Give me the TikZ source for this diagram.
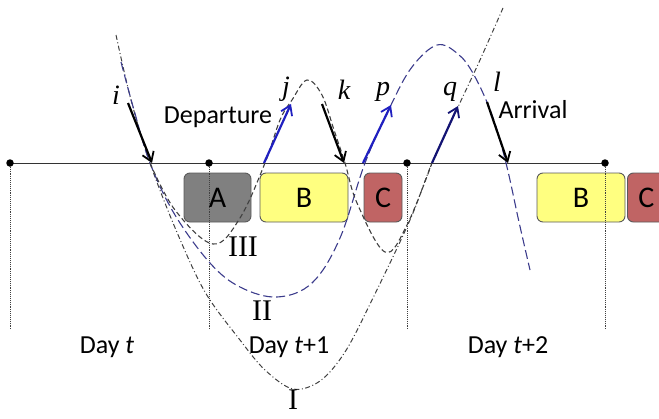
\documentclass[tikz,border=0pt]{standalone}
\usepackage{fontspec}
\setmainfont{Liberation Serif}
\newfontfamily\calib{Carlito}
\usetikzlibrary{arrows.meta}
\definecolor{boxA}{HTML}{808080}
\definecolor{boxB}{HTML}{FFFF80}
\definecolor{boxC}{HTML}{C06464}
\definecolor{edgegray}{HTML}{5A5A5A}
\definecolor{curveblue}{HTML}{3C3C8C}
\definecolor{arrblue}{HTML}{2020C0}
\tikzset{
  actbox/.style={draw=edgegray, line width=0.9pt, rounded corners=6pt, minimum height=49pt, inner sep=0pt, font=\calib\fontsize{30}{30}\selectfont},
  dotnode/.style={circle, fill=black, inner sep=0pt, minimum size=7.5pt},
  dayline/.style={densely dotted, line width=0.9pt, black!75},
  curveI/.style={line width=1pt, black!75, dash pattern=on 5pt off 2.5pt on 1pt off 2.5pt},
  curveII/.style={line width=1.1pt, curveblue, dash pattern=on 9pt off 4pt},
  curveIII/.style={line width=1.1pt, black!75, dash pattern=on 5pt off 3pt},
  trip/.style={line width=2.2pt, -{Straight Barb[length=9pt,width=12pt,line width=1.8pt]}},
  lab/.style={font=\fontsize{28}{28}\selectfont\itshape, inner sep=0pt},
  roman/.style={font=\fontsize{30}{30}\selectfont, inner sep=0pt},
  sans/.style={font=\calib\fontsize{26}{26}\selectfont, inner sep=0pt}
}
\begin{document}
\begin{tikzpicture}[x=1pt,y=-1pt]
\useasboundingbox (0,0) rectangle (659,418);
% boxes
\node[actbox, fill=boxA, minimum width=67pt] (A) at (217.5,197.5) {A};
\node[actbox, fill=boxB, minimum width=88pt] (B) at (304,197.5) {B};
\node[actbox, fill=boxC, minimum width=38pt] (C) at (383,197.5) {C};
\node[actbox, fill=boxB, minimum width=88pt] (B2) at (581,197.5) {B};
\node[actbox, fill=boxC, minimum width=38pt, anchor=west] (C2) at (627,197.5) {C};
% timeline
\coordinate (t0) at (10,163);
\coordinate (t1) at (209,163);
\coordinate (t2) at (407,163);
\coordinate (t3) at (605,163);
\coordinate (b0) at (10,330);
\coordinate (b1) at (209,330);
\coordinate (b2) at (407,330);
\coordinate (b3) at (605,330);
\draw[line width=1pt, black!80] (t0) -- (t3);
\draw[dayline] (t0) -- (b0);
\draw[dayline] (t1) -- (b1);
\draw[dayline] (t2) -- (b2);
\draw[dayline] (t3) -- (b3);
\node[dotnode] (d0) at (t0) {};
\node[dotnode] (d1) at (t1) {};
\node[dotnode] (d2) at (t2) {};
\node[dotnode] (d3) at (t3) {};
% curve I
\draw[curveI] plot[smooth, tension=0.55] coordinates {(116,35) (131,100) (150,163) (176,230) (205,292) (240,340) (265,370) (293,389) (320,381) (345,352) (372,300) (410,220) (432,163) (458,107) (480,60) (503,8)};
% curve II
\draw[curveII] plot[smooth, tension=0.6] coordinates {(121,62) (134,110) (150,163) (175,215) (210,263) (240,287) (277,297) (312,283) (340,238) (365,163) (391,105) (412,67) (437,45) (458,54) (474,75) (492,115) (506,163) (519,222) (530,270)};
% curve III
\draw[curveIII] plot[smooth, tension=0.6] coordinates {(150,163) (175,210) (213,244) (240,218) (265,163) (280,120) (292,100) (307,80) (322,95) (334,130) (345,163) (357,203) (385,252) (407,225) (432,163)};
% trip arrows
\coordinate (i1) at (128,103); \coordinate (i2) at (152,163);
\coordinate (j1) at (264,163); \coordinate (j2) at (291,104);
\coordinate (k1) at (322,104); \coordinate (k2) at (344,163);
\coordinate (p1) at (363,163); \coordinate (p2) at (391,105);
\coordinate (q1) at (432,163); \coordinate (q2) at (458,106);
\coordinate (l1) at (487,102); \coordinate (l2) at (508,163);
\draw[trip, black] (i1) -- (i2);
\draw[trip, arrblue] (j1) -- (j2);
\draw[trip, black] (k1) -- (k2);
\draw[trip, arrblue] (p1) -- (p2);
\draw[trip, black!40!arrblue] (q1) -- (q2);
\draw[trip, black] (l1) -- (l2);
% labels
\node[lab] (li) at (116,95) {i};
\node[lab] (lj) at (286,89) {j};
\node[lab] (lk) at (344,90) {k};
\node[lab] (lp) at (383,92) {p};
\node[lab] (lq) at (450,92) {q};
\node[lab] (ll) at (497,82) {l};
\node[sans] (dep) at (218,117) {Departure};
\node[sans] (arr) at (533,110) {Arrival};
\node[roman] (r3) at (243,247) {III};
\node[roman] (r2) at (262,311) {II};
\node[roman, anchor=base] (r1) at (293,409) {I};
\node[sans] (day0) at (107,347) {Day \textit{t}};
\node[sans] (day1) at (289,347) {Day \textit{t}+1};
\node[sans] (day2) at (508,347) {Day \textit{t}+2};
\end{tikzpicture}
\end{document}
